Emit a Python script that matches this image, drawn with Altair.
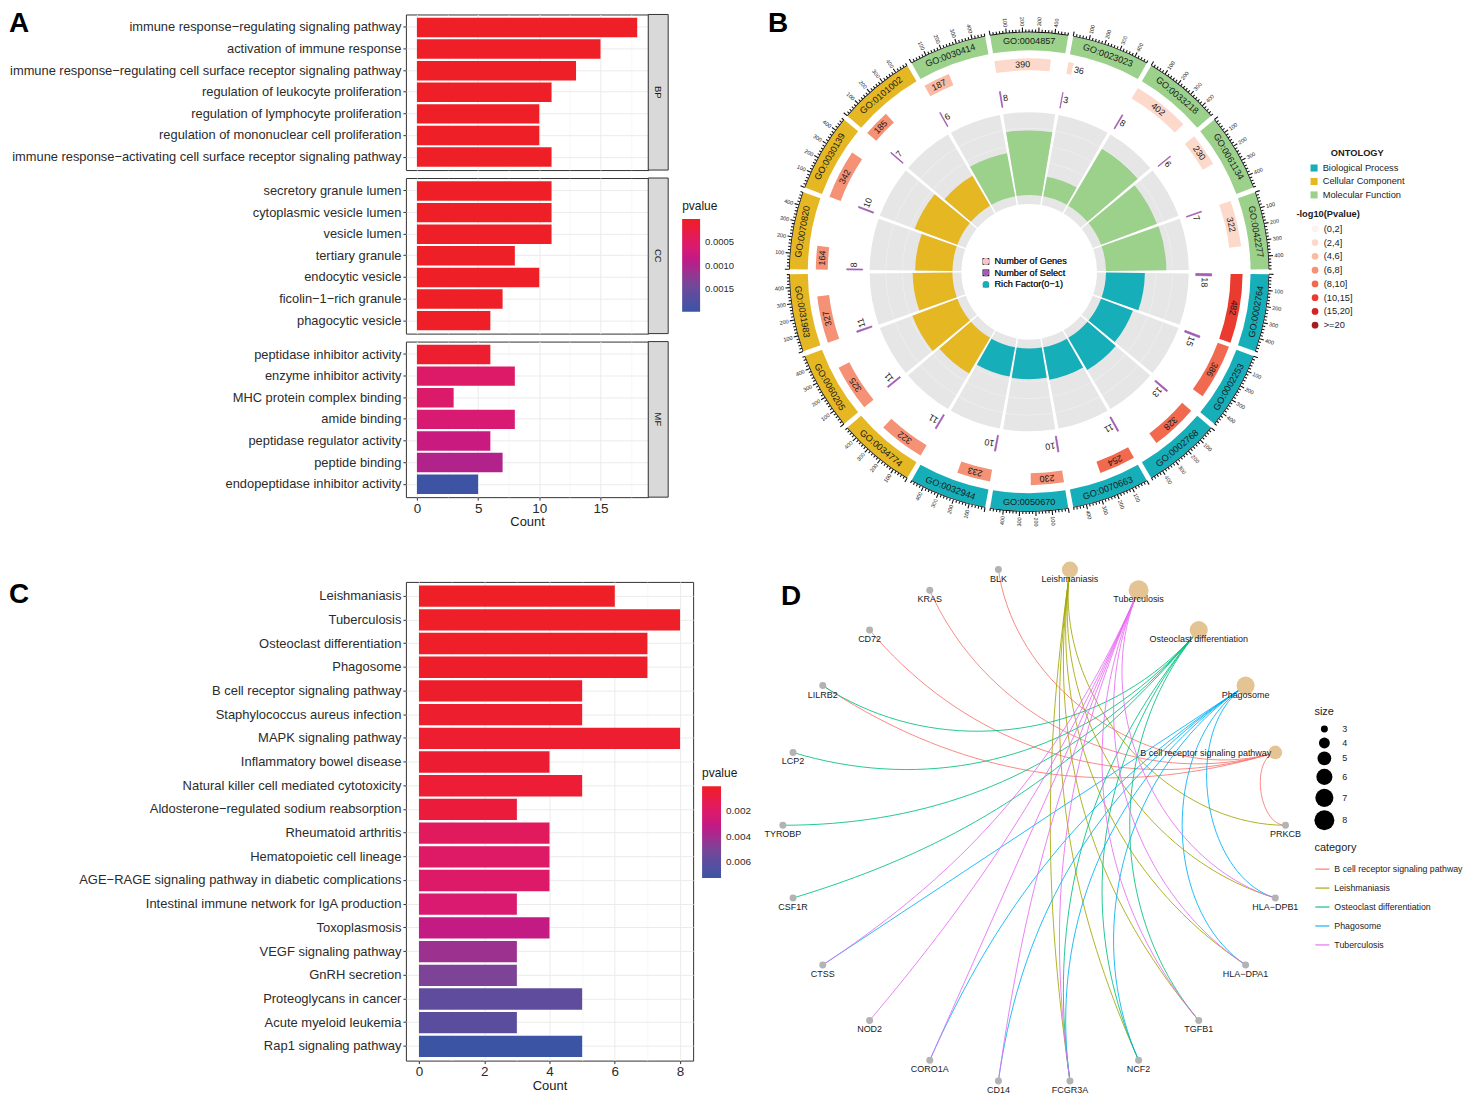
import altair as alt
import numpy as np
import pandas as pd

FONT = "Liberation Sans, Arial, Helvetica, sans-serif"
DARK = "#1A1A1A"
LAB = "#2B2B2B"

# ---------------- Panel A : GO enrichment (BP / CC / MF) ----------------
bp_terms = ["immune response−regulating signaling pathway",
            "activation of immune response",
            "immune response−regulating cell surface receptor signaling pathway",
            "regulation of leukocyte proliferation",
            "regulation of lymphocyte proliferation",
            "regulation of mononuclear cell proliferation",
            "immune response−activating cell surface receptor signaling pathway"]
bp_counts = [18, 15, 13, 11, 10, 10, 11]
bp_pvalue = [1.0e-11, 2.0e-10, 4.0e-10, 1.0e-9, 2.0e-8, 2.5e-8, 1.5e-9]

cc_terms = ["secretory granule lumen", "cytoplasmic vesicle lumen", "vesicle lumen",
            "tertiary granule", "endocytic vesicle", "ficolin−1−rich granule",
            "phagocytic vesicle"]
cc_counts = [11, 11, 11, 8, 10, 7, 6]
cc_pvalue = [1.0e-7, 1.0e-7, 1.0e-7, 3.0e-7, 2.0e-7, 5.0e-7, 2.0e-6]

mf_terms = ["peptidase inhibitor activity", "enzyme inhibitor activity",
            "MHC protein complex binding", "amide binding",
            "peptidase regulator activity", "peptide binding",
            "endopeptidase inhibitor activity"]
mf_counts = [6, 8, 3, 8, 6, 7, 5]
mf_pvalue = [0.00009, 0.00052, 0.00054, 0.00064, 0.00078, 0.00098, 0.00197]

# ---------------- Panel C : KEGG enrichment ----------------
kegg_terms = ["Leishmaniasis", "Tuberculosis", "Osteoclast differentiation", "Phagosome",
              "B cell receptor signaling pathway", "Staphylococcus aureus infection",
              "MAPK signaling pathway", "Inflammatory bowel disease",
              "Natural killer cell mediated cytotoxicity",
              "Aldosterone−regulated sodium reabsorption", "Rheumatoid arthritis",
              "Hematopoietic cell lineage",
              "AGE−RAGE signaling pathway in diabetic complications",
              "Intestinal immune network for IgA production", "Toxoplasmosis",
              "VEGF signaling pathway", "GnRH secretion", "Proteoglycans in cancer",
              "Acute myeloid leukemia", "Rap1 signaling pathway"]
kegg_counts = [6, 8, 7, 7, 5, 5, 8, 4, 5, 3, 4, 4, 4, 3, 4, 3, 3, 5, 3, 5]
kegg_pvalue = [0.00004, 0.00011, 0.00012, 0.00019, 0.00026, 0.00033, 0.00040, 0.00047,
               0.00055, 0.00076, 0.00155, 0.00184, 0.00192, 0.00228, 0.00307, 0.00415,
               0.00494, 0.00581, 0.00602, 0.00725]

# ---------------- Panel B : GO circle ----------------
go_ids = ["GO:0002764", "GO:0002253", "GO:0002768", "GO:0070663", "GO:0050670", "GO:0032944",
          "GO:0034774", "GO:0060205", "GO:0031983", "GO:0070820", "GO:0030139", "GO:0101002",
          "GO:0030414", "GO:0004857", "GO:0023023", "GO:0033218", "GO:0061134", "GO:0042277"]
go_ontology = ["Biological Process"] * 6 + ["Cellular Component"] * 6 + ["Molecular Function"] * 6
go_genes = [482, 386, 328, 254, 230, 233, 322, 325, 327, 164, 342, 185, 187, 390, 36, 402, 230, 322]
go_select = [18, 15, 13, 11, 10, 10, 11, 11, 11, 8, 10, 7, 6, 8, 3, 8, 6, 7]
go_plevel = ["(10,15]", "(8,10]", "(8,10]", "(8,10]", "(6,8]", "(6,8]",
             "(6,8]", "(6,8]", "(6,8]", "(6,8]", "(6,8]", "(6,8]",
             "(4,6]", "(2,4]", "(2,4]", "(2,4]", "(2,4]", "(2,4]"]
go_rich = [0.47, 0.41, 0.45, 0.40, 0.37, 0.36, 0.50, 0.58, 0.48, 0.45, 0.55, 0.42,
           0.53, 0.78, 0.24, 0.80, 0.72, 0.73]
ontology_names = ["Biological Process", "Cellular Component", "Molecular Function"]
ontology_colors = ["#16AFB9", "#E5B723", "#9BD18A"]
plevel_names = ["(0,2]", "(2,4]", "(4,6]", "(6,8]", "(8,10]", "(10,15]", "(15,20]", ">=20"]
plevel_colors = ["#FBF3F0", "#FCD9CB", "#F9BBA4", "#F59175", "#F1694E", "#EB3A2F", "#D0232A", "#A51D21"]
inner_items = ["Number of Genes", "Number of Select", "Rich Factor(0−1)"]
inner_colors = ["#F7C3CE", "#A25BB5", "#16AFB9"]

# ---------------- Panel D : gene-concept network ----------------
node_order = ["Leishmaniasis", "Tuberculosis", "Osteoclast differentiation", "Phagosome",
              "B cell receptor signaling pathway", "PRKCB", "HLA−DPB1", "HLA−DPA1", "TGFB1",
              "NCF2", "FCGR3A", "CD14", "CORO1A", "NOD2", "CTSS", "CSF1R", "TYROBP", "LCP2",
              "LILRB2", "CD72", "KRAS", "BLK"]
cnet_categories = ["B cell receptor signaling pathway", "Leishmaniasis",
                   "Osteoclast differentiation", "Phagosome", "Tuberculosis"]
cnet_colors = ["#F8766D", "#A3A500", "#00BF7D", "#00B0F6", "#E76BF3"]
cnet_members = [
    ["BLK", "KRAS", "CD72", "LILRB2", "PRKCB"],
    ["PRKCB", "HLA−DPB1", "HLA−DPA1", "TGFB1", "NCF2", "FCGR3A"],
    ["LILRB2", "LCP2", "TYROBP", "CSF1R", "TGFB1", "NCF2", "FCGR3A"],
    ["HLA−DPB1", "HLA−DPA1", "NCF2", "FCGR3A", "CD14", "CORO1A", "CTSS"],
    ["HLA−DPB1", "HLA−DPA1", "TGFB1", "FCGR3A", "CD14", "CORO1A", "NOD2", "CTSS"],
]

# ---------------- shared colour gradient (red -> magenta -> blue) ----------------
GRAD_F = [0.0, 0.1, 0.2, 0.25, 0.32, 0.42, 0.5, 0.57, 0.68, 0.8, 0.9, 1.0]
GRAD_C = ["#EE1F26", "#EB1C3B", "#E21A5C", "#DE1A66", "#D81A72", "#C31A84",
          "#B0238C", "#9D3190", "#7C4397", "#604C9D", "#5050A2", "#3B54A4"]


def grad_scale(pmin, pmax):
    dom = sorted([-(pmin + f * (pmax - pmin)) for f in GRAD_F])
    return alt.Scale(type="linear", domain=dom, range=GRAD_C[::-1], interpolate="rgb",
                     zero=False, nice=False, clamp=True)


def letter(ch, x, y, opacity=1.0, size=28):
    return alt.Chart(pd.DataFrame({"t": [ch]})).mark_text(
        fontSize=size, fontWeight="bold", align="left", baseline="top", color="black",
        opacity=opacity).encode(x=alt.value(x), y=alt.value(y), text="t:N")


def band_axis(size):
    return alt.Axis(title=None, labelFontSize=size, labelColor=LAB, labelLimit=900, labelPadding=2,
                    tickSize=3, tickColor="#333333", domain=False, grid=True, gridColor="#EBEBEB",
                    gridWidth=1, bandPosition=0.5)


def count_axis(values, major, show):
    test = f"datum.value % {major} === 0"
    return alt.Axis(values=values, format="~g",
                    labelExpr=f"{test} ? datum.label : ''",
                    labels=show, ticks=show, domain=False, tickSize=3, tickColor="#333333",
                    tickOpacity=alt.condition(test, alt.value(1), alt.value(0)),
                    grid=True,
                    gridColor=alt.condition(test, alt.value("#EBEBEB"), alt.value("#F4F4F4")),
                    gridWidth=alt.condition(test, alt.value(1), alt.value(0.6)),
                    labelFontSize=13.5, labelColor=LAB, labelPadding=1,
                    title="Count" if show else None, titleFontSize=13, titleFontWeight="normal",
                    titleColor=DARK, titlePadding=1)


# ---------------- build panel A ----------------
A_W, A_H, STRIP = 243, 156, 20
AX = alt.Scale(domain=[-0.9, 18.9], nice=False, zero=False)
A_GRAD = grad_scale(0.0, 0.00199)
A_VALUES = [0, 2.5, 5, 7.5, 10, 12.5, 15, 17.5]
A_LEGEND = alt.Legend(title="pvalue", orient="none", legendX=277, legendY=23, direction="vertical",
                      gradientLength=93, gradientThickness=18, gradientStrokeWidth=0,
                      values=[-0.0015, -0.001, -0.0005],
                      labelExpr="format(-datum.value, '.4f')", labelOverlap=False,
                      labelFontSize=9.5, labelColor=LAB, labelOffset=5,
                      titleFontSize=12, titleFontWeight="normal", titleColor=DARK, titlePadding=6)


def a_panel(terms, counts, pvals, ont, bottom=False, legend=None, extra=None):
    df = pd.DataFrame({"term": terms, "count": counts, "p": pvals})
    bars = alt.Chart(df).transform_calculate(negp="-datum.p").mark_bar().encode(
        x=alt.X("count:Q", scale=AX, axis=count_axis(A_VALUES, 5, bottom)),
        y=alt.Y("term:N", sort=terms, scale=alt.Scale(paddingInner=0.1, paddingOuter=0.15),
                axis=band_axis(12.9)),
        color=alt.Color("negp:Q", scale=A_GRAD, legend=legend),
    )
    sdf = pd.DataFrame({"ont": [ont]})
    srect = alt.Chart(sdf).mark_rect(fill="#D9D9D9", stroke="#333333", strokeWidth=1).encode(
        x=alt.value(A_W), x2=alt.value(A_W + STRIP), y=alt.value(0), y2=alt.value(A_H))
    stext = alt.Chart(sdf).mark_text(angle=90, fontSize=9.5, color=DARK).encode(
        x=alt.value(A_W + STRIP / 2), y=alt.value(A_H / 2), text="ont:N")
    layers = [bars, srect, stext] + (extra or [])
    return alt.layer(*layers).properties(
        width=A_W, height=A_H, view=alt.ViewBackground(stroke="#333333", strokeWidth=1))


bp_chart = a_panel(bp_terms, bp_counts, bp_pvalue, "BP", extra=[letter("A", -398, -4)])
cc_chart = a_panel(cc_terms, cc_counts, cc_pvalue, "CC", legend=A_LEGEND)
mf_chart = a_panel(mf_terms, mf_counts, mf_pvalue, "MF", bottom=True)

# ---------------- build panel C ----------------
C_W, C_H = 288, 480
CX = alt.Scale(domain=[-0.4, 8.4], nice=False, zero=False)
C_GRAD = grad_scale(0.00004, 0.00725)
C_LEGEND = alt.Legend(title="pvalue", orient="none", legendX=297, legendY=187, direction="vertical",
                      gradientLength=92, gradientThickness=19, gradientStrokeWidth=0,
                      values=[-0.006, -0.004, -0.002],
                      labelExpr="format(-datum.value, '.3f')", labelOverlap=False,
                      labelFontSize=10, labelColor=LAB, labelOffset=5,
                      titleFontSize=12, titleFontWeight="normal", titleColor=DARK, titlePadding=6)
c_df = pd.DataFrame({"term": kegg_terms, "count": kegg_counts, "p": kegg_pvalue})
c_bars = alt.Chart(c_df).transform_calculate(negp="-datum.p").mark_bar().encode(
    x=alt.X("count:Q", scale=CX, axis=count_axis(list(range(9)), 2, True)),
    y=alt.Y("term:N", sort=kegg_terms, scale=alt.Scale(paddingInner=0.1, paddingOuter=0.15),
            axis=band_axis(13)),
    color=alt.Color("negp:Q", scale=C_GRAD, legend=C_LEGEND),
)
c_chart = alt.layer(c_bars, letter("C", -398, -1), letter("C", 0, -46, opacity=0, size=10)).properties(
    width=C_W, height=C_H, view=alt.ViewBackground(stroke="#333333", strokeWidth=1))

# ---------------- build panel B ----------------
B_S = 516
NS = len(go_ids)
SPAN = 360.0 / NS
GAP = 1.2
USE = SPAN - GAP
XMAX = max(go_genes)
TH = alt.Scale(type="linear", domain=[0, 360], range=[0, 2 * np.pi], zero=False, nice=False)
RF = alt.Scale(type="linear", domain=[0, 1], range=[77, 160], zero=False, nice=False)


def norm(a):
    return ((np.asarray(a) % 360) + 360) % 360


sec = pd.DataFrame({"id": go_ids, "ont": go_ontology, "genes": go_genes, "sel": go_select,
                    "plevel": go_plevel, "rich": go_rich})
sec["t1"] = 90 + SPAN * np.arange(NS) + GAP / 2
sec["t2"] = sec["t1"] + USE
sec["gw"] = sec["genes"] / XMAX * USE
sec["tg"] = sec["t1"] + sec["gw"]
sec["ts"] = sec["t1"] + sec["sel"] / XMAX * USE
sec["tc"] = sec["t1"] + USE / 2
m = norm(sec["tc"])
sec["ang_ring"] = norm(np.where((m <= 90) | (m >= 270), m, m - 180))
sec["tgc"] = np.where(sec["gw"] > 4, sec["t1"] + sec["gw"] / 2, sec["tg"] + 0.5)
sec["ang_g"] = norm(sec["tgc"])
sec["wide"] = sec["gw"] > 4
sec["tsl"] = sec["ts"] + 0.5
sec["ang_s"] = norm(sec["tsl"])

grid_rows = []
for t1, t2 in zip(sec["t1"], sec["t2"]):
    for lv in [0.2, 0.4, 0.6, 0.8]:
        grid_rows.append({"t1": t1, "t2": t2, "lv": lv, "lv2": lv + 0.008})
grid_df = pd.DataFrame(grid_rows)

tick_rows, tlab_rows = [], []
for t1 in sec["t1"]:
    for u in range(0, XMAX + 1, 20):
        th = t1 + u / XMAX * USE
        tick_rows.append({"a1": th - 0.13, "a2": th + 0.13, "major": u % 100 == 0})
        if u % 100 == 0 and u > 0:
            mm = th % 360
            tlab_rows.append({"th": th, "lab": str(u), "ang": (mm - 90) % 360 if mm < 180 else (mm - 270) % 360})
ticks = pd.DataFrame(tick_rows)
tlabs = pd.DataFrame(tlab_rows)


def th_enc(f):
    return alt.Theta(f"{f}:Q", scale=TH, stack=False)


b_bg = alt.Chart(sec).mark_arc(color="#E6E6E6").encode(
    theta=th_enc("t1"), theta2=alt.Theta2("t2"), radius=alt.value(160), radius2=alt.value(68))
b_grid = alt.Chart(grid_df).mark_arc(color="#EFEFEF").encode(
    theta=th_enc("t1"), theta2=alt.Theta2("t2"),
    radius=alt.Radius("lv2:Q", scale=RF), radius2=alt.Radius2("lv"))
ONT_SCALE = alt.Scale(domain=ontology_names, range=ontology_colors)
b_ring = alt.Chart(sec).mark_arc().encode(
    theta=th_enc("t1"), theta2=alt.Theta2("t2"), radius=alt.value(240), radius2=alt.value(222),
    color=alt.Color("ont:N", scale=ONT_SCALE,
                    legend=alt.Legend(title="ONTOLOGY", orient="none", legendX=539, legendY=135,
                                      symbolType="square", symbolSize=50, symbolStrokeWidth=0,
                                      titleFontSize=9.3, titleFontWeight="bold", titleAnchor="middle",
                                      titleColor=DARK, labelFontSize=9.3, labelColor="#222222",
                                      rowPadding=3.5, titlePadding=5)))
b_rich = alt.Chart(sec).mark_arc().encode(
    theta=th_enc("t1"), theta2=alt.Theta2("t2"),
    radius=alt.Radius("rich:Q", scale=RF), radius2=alt.value(77),
    color=alt.Color("ont:N", scale=ONT_SCALE, legend=None))
b_genes = alt.Chart(sec).mark_arc().encode(
    theta=th_enc("t1"), theta2=alt.Theta2("tg"), radius=alt.value(214), radius2=alt.value(202),
    color=alt.Color("plevel:N", scale=alt.Scale(domain=plevel_names, range=plevel_colors),
                    legend=alt.Legend(title="-log10(Pvalue)", orient="none", legendX=526, legendY=196,
                                      symbolType="circle", symbolSize=45, symbolStrokeWidth=0,
                                      symbolOffset=14, titleFontSize=9.3, titleFontWeight="bold",
                                      titleColor=DARK, labelFontSize=9.3, labelColor="#222222",
                                      rowPadding=3.8, titlePadding=5)))
b_sel = alt.Chart(sec).mark_arc(color="#A25BB5", stroke="#A25BB5", strokeWidth=0.7).encode(
    theta=th_enc("t1"), theta2=alt.Theta2("ts"), radius=alt.value(183), radius2=alt.value(167))
b_base = alt.Chart(sec).mark_arc(color="#111111").encode(
    theta=th_enc("t1"), theta2=alt.Theta2("t2"), radius=alt.value(240.8), radius2=alt.value(240.0))
b_tick_major = alt.Chart(ticks[ticks["major"]]).mark_arc(color="#111111").encode(
    theta=th_enc("a1"), theta2=alt.Theta2("a2"), radius=alt.value(245), radius2=alt.value(240.5))
b_tick_minor = alt.Chart(ticks[~ticks["major"]]).mark_arc(color="#111111").encode(
    theta=th_enc("a1"), theta2=alt.Theta2("a2"), radius=alt.value(243), radius2=alt.value(240.5))
b_ring_txt = alt.Chart(sec).mark_text(fontSize=9.2, color=DARK, baseline="middle").encode(
    theta=th_enc("tc"), radius=alt.value(231), text="id:N", angle=alt.Angle("ang_ring:Q", scale=None))
b_gene_txt = alt.Chart(sec[sec["wide"]]).mark_text(fontSize=9, color=DARK, baseline="middle").encode(
    theta=th_enc("tgc"), radius=alt.value(208), text="genes:N", angle=alt.Angle("ang_g:Q", scale=None))
b_gene_txt2 = alt.Chart(sec[~sec["wide"]]).mark_text(fontSize=9, color=DARK, baseline="middle",
                                                     align="left").encode(
    theta=th_enc("tgc"), radius=alt.value(208), text="genes:N", angle=alt.Angle("ang_g:Q", scale=None))
b_sel_txt = alt.Chart(sec).mark_text(fontSize=9, color=DARK, baseline="middle", align="left").encode(
    theta=th_enc("tsl"), radius=alt.value(176), text="sel:N", angle=alt.Angle("ang_s:Q", scale=None))
b_tick_txt = alt.Chart(tlabs).mark_text(fontSize=5.5, color=DARK, baseline="middle").encode(
    theta=th_enc("th"), radius=alt.value(251), text="lab:N", angle=alt.Angle("ang:Q", scale=None))
inner_legend = alt.Legend(title=None, orient="none", legendX=210, legendY=243, symbolSize=45,
                          symbolStrokeWidth=0, symbolOpacity=1, labelFontSize=9.2, labelColor="#222222",
                          rowPadding=1.5)
b_dummy = alt.Chart(pd.DataFrame({"lg": inner_items})).mark_point(filled=True, opacity=0).encode(
    color=alt.Color("lg:N", scale=alt.Scale(domain=inner_items, range=inner_colors), legend=inner_legend),
    shape=alt.Shape("lg:N", scale=alt.Scale(domain=inner_items, range=["square", "square", "triangle-up"]),
                    legend=inner_legend))

b_chart = alt.layer(b_bg, b_grid, b_rich, b_ring, b_genes, b_sel, b_base, b_tick_major, b_tick_minor,
                    b_ring_txt, b_gene_txt, b_gene_txt2, b_sel_txt, b_tick_txt, b_dummy,
                    letter("B", -4, -4)).resolve_scale(color="independent").properties(
    width=B_S, height=B_S, view=alt.ViewBackground(strokeWidth=0))

# ---------------- build panel D ----------------
D_W, D_H = 540, 540
D_CX, D_CY, D_RX, D_RY = 263, 280, 252, 259
XS = alt.Scale(domain=[-D_CX / D_RX, (D_W - D_CX) / D_RX], nice=False, zero=False)
YS = alt.Scale(domain=[-(D_H - D_CY) / D_RY, D_CY / D_RY], nice=False, zero=False)

ND = len(node_order)
node_theta = (np.arange(ND) + 0.5) * 2 * np.pi / ND
nodes = pd.DataFrame({"name": node_order, "x": np.sin(node_theta), "y": np.cos(node_theta)})
cat_count = dict(zip(kegg_terms, kegg_counts))
nodes["kind"] = np.where(nodes["name"].isin(cnet_categories), "category", "gene")
nodes["count"] = [cat_count.get(n, np.nan) for n in node_order]
pos = {n: np.array([x, y]) for n, x, y in zip(nodes["name"], nodes["x"], nodes["y"])}

ARC_K = 0.37
tt = np.linspace(0, 1, 41)
erows = []
eid = 0
for cat, genes in zip(cnet_categories, cnet_members):
    p3 = pos[cat]
    for g in genes:
        p0 = pos[g]
        L = np.linalg.norm(p3 - p0)
        p1 = p0 * (1 - ARC_K * L)
        p2 = p3 * (1 - ARC_K * L)
        for t in tt:
            b = (1 - t) ** 3 * p0 + 3 * (1 - t) ** 2 * t * p1 + 3 * (1 - t) * t ** 2 * p2 + t ** 3 * p3
            erows.append({"eid": eid, "t": t, "x": b[0], "y": b[1], "category": cat})
        eid += 1
edges = pd.DataFrame(erows)

dx = alt.X("x:Q", scale=XS, axis=None)
dy = alt.Y("y:Q", scale=YS, axis=None)
d_edges = alt.Chart(edges).mark_line(strokeWidth=1, opacity=0.85).encode(
    x=dx, y=dy, detail="eid:N", order="t:Q",
    color=alt.Color("category:N", scale=alt.Scale(domain=cnet_categories, range=cnet_colors),
                    legend=alt.Legend(title="category", orient="none", legendX=544, legendY=297,
                                      symbolType="stroke", symbolSize=200, symbolStrokeWidth=1.3,
                                      labelFontSize=8.8, labelLimit=130, titleFontSize=11,
                                      titleFontWeight="normal", titleColor="#222222",
                                      labelColor="#222222", rowPadding=6, titlePadding=8)))
d_genes = alt.Chart(nodes[nodes["kind"] == "gene"]).mark_circle(color="#B3B3B3", size=49, opacity=1).encode(
    x=dx, y=dy)
d_cats = alt.Chart(nodes[nodes["kind"] == "category"]).mark_circle(opacity=1).encode(
    x=dx, y=dy,
    size=alt.Size("count:Q", scale=alt.Scale(domain=[3, 8], range=[49, 400]),
                  legend=alt.Legend(title="size", orient="none", legendX=544, legendY=160,
                                    values=[3, 4, 5, 6, 7, 8], labelFontSize=9, titleFontSize=11,
                                    titleFontWeight="normal", titleColor="#222222", labelColor="#222222",
                                    symbolStrokeWidth=0, rowPadding=3, labelOffset=8, titlePadding=8)),
    color=alt.Color("kind:N", scale=alt.Scale(range=["#E5C494"]), legend=None))
d_labels = alt.Chart(nodes).transform_filter(
    "datum.name !== 'B cell receptor signaling pathway'").mark_text(
    fontSize=9, color=DARK, dy=9).encode(x=dx, y=dy, text="name:N")
d_label_b = alt.Chart(nodes).transform_filter(
    "datum.name === 'B cell receptor signaling pathway'").mark_text(
    fontSize=9, color=DARK, align="right", dx=-4, dy=1).encode(x=dx, y=dy, text="name:N")

d_chart = alt.layer(d_edges, d_genes, d_cats, d_labels, d_label_b, letter("D", 9, 37)).resolve_scale(
    color="independent").properties(width=D_W, height=D_H, view=alt.ViewBackground(strokeWidth=0))

# ---------------- assemble ----------------
left_col = alt.vconcat(bp_chart, cc_chart, mf_chart, c_chart, spacing=6).resolve_scale(color="independent")
right_col = alt.vconcat(b_chart, d_chart, spacing=17).resolve_scale(
    color="independent", size="independent", shape="independent")
chart = alt.hconcat(left_col, right_col, spacing=11).resolve_scale(
    color="independent", size="independent", shape="independent").properties(
    padding=0).configure(font=FONT, background="white").configure_view(strokeWidth=0)

chart.save("out.html", embed_options={"renderer": "svg", "actions": False})
